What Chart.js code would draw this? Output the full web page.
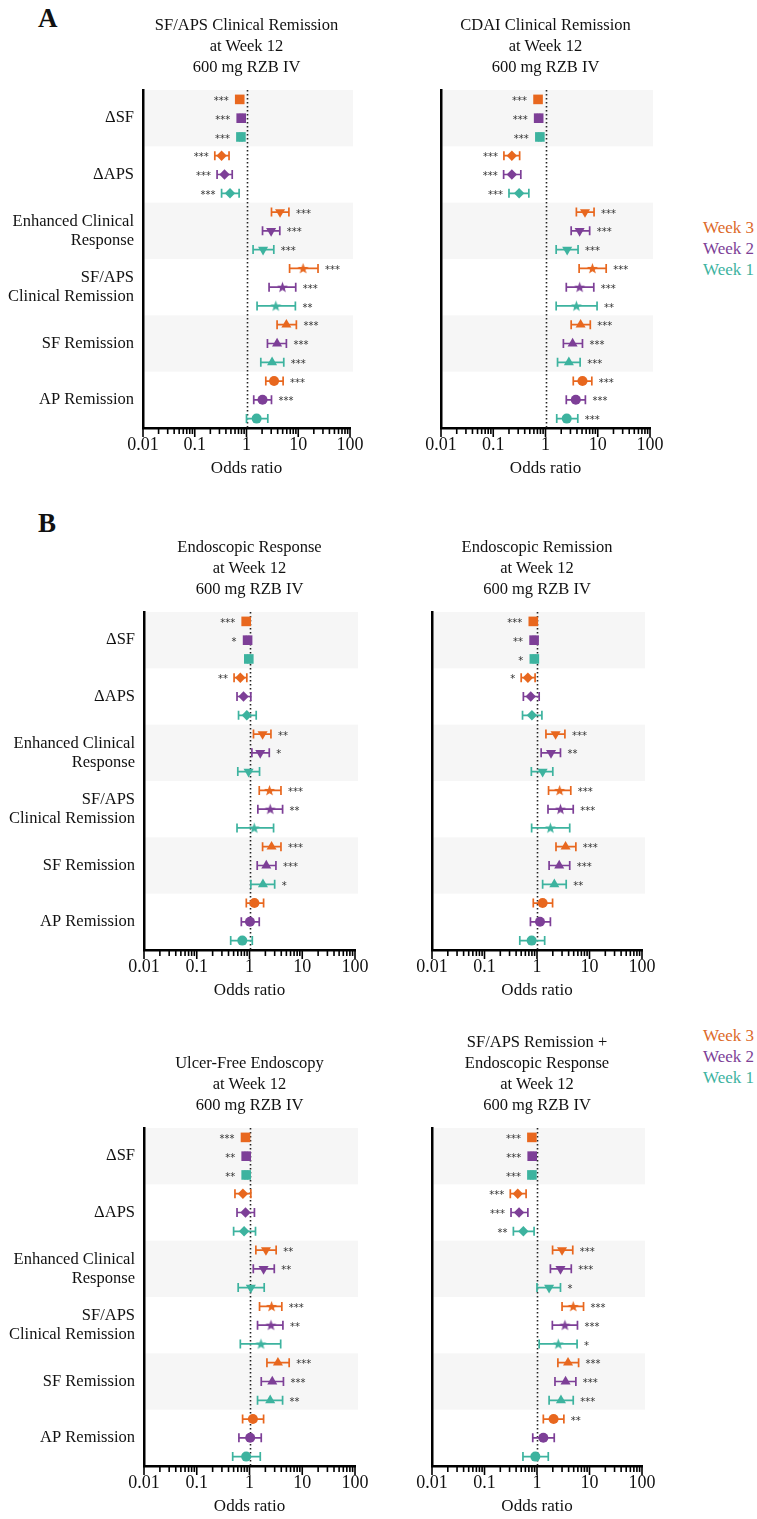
<!DOCTYPE html>
<html><head><meta charset="utf-8">
<script src="https://cdn.jsdelivr.net/npm/chart.js@4.4.1/dist/chart.umd.min.js"></script>
<style>
html,body{margin:0;padding:0;background:#fff;}
body{width:757px;height:1519px;position:relative;overflow:hidden;font-family:"Liberation Serif","Times New Roman",serif;color:#111;}
.pc{position:absolute;}
.txt{position:absolute;font-family:"Liberation Serif","Times New Roman",serif;white-space:nowrap;}
.ttl{font-size:16.5px;line-height:21px;text-align:center;width:320px;color:#111;}
.leg{font-size:17px;line-height:21px;}
.big{font-size:27px;line-height:27px;font-weight:bold;color:#111;}
</style></head><body>

<script>
// ---------------- DATA ----------------
const WEEKS = ['Week 3', 'Week 2', 'Week 1'];
const CATEGORIES = [['ΔSF'], ['ΔAPS'], ['Enhanced Clinical', 'Response'], ['SF/APS', 'Clinical Remission'], ['SF Remission'], ['AP Remission']];
const X_TICKS = [0.01, 0.1, 1, 10, 100];
const X_TICK_LABELS = ['0.01', '0.1', '1', '10', '100'];
const X_TITLE = 'Odds ratio';

// Panel A left: SF/APS Clinical Remission at Week 12
const SFAPS_W3_OR = [0.74, 0.33, 4.45, 12.4, 5.9, 3.41];
const SFAPS_W3_LO = [0.70, 0.244, 3.04, 6.8, 3.9, 2.36];
const SFAPS_W3_HI = [0.78, 0.46, 6.6, 24.1, 9.2, 5.1];
const SFAPS_W3_SIG = ['***', '***', '***', '***', '***', '***'];
const SFAPS_W2_OR = [0.79, 0.376, 2.99, 4.95, 3.9, 2.04];
const SFAPS_W2_LO = [0.75, 0.27, 2.04, 2.73, 2.54, 1.38];
const SFAPS_W2_HI = [0.83, 0.53, 4.4, 8.94, 5.9, 3.04];
const SFAPS_W2_SIG = ['***', '***', '***', '***', '***', '***'];
const SFAPS_W1_OR = [0.78, 0.48, 2.09, 3.68, 3.12, 1.57];
const SFAPS_W1_LO = [0.74, 0.33, 1.34, 1.6, 1.89, 1.0];
const SFAPS_W1_HI = [0.82, 0.72, 3.37, 8.8, 5.25, 2.58];
const SFAPS_W1_SIG = ['***', '***', '***', '**', '***', ''];

// Panel A right: CDAI Clinical Remission at Week 12
const CDAI_W3_OR = [0.72, 0.227, 5.7, 7.9, 4.7, 5.1];
const CDAI_W3_LO = [0.68, 0.16, 3.9, 4.4, 3.1, 3.4];
const CDAI_W3_HI = [0.76, 0.32, 8.5, 14.5, 7.2, 7.7];
const CDAI_W3_SIG = ['***', '***', '***', '***', '***', '***'];
const CDAI_W2_OR = [0.74, 0.227, 4.5, 4.5, 3.3, 3.8];
const CDAI_W2_LO = [0.70, 0.158, 3.1, 2.5, 2.2, 2.5];
const CDAI_W2_HI = [0.78, 0.337, 7.0, 8.4, 5.1, 5.8];
const CDAI_W2_SIG = ['***', '***', '***', '***', '***', '***'];
const CDAI_W1_OR = [0.78, 0.313, 2.6, 3.9, 2.8, 2.55];
const CDAI_W1_LO = [0.74, 0.2, 1.6, 1.6, 1.7, 1.64];
const CDAI_W1_HI = [0.82, 0.48, 4.2, 9.7, 4.6, 4.15];
const CDAI_W1_SIG = ['***', '***', '***', '**', '***', '***'];

// Panel B top left: Endoscopic Response at Week 12
const ENDRESP_W3_OR = [0.865, 0.67, 1.77, 2.4, 2.62, 1.24];
const ENDRESP_W3_LO = [0.82, 0.51, 1.19, 1.53, 1.77, 0.87];
const ENDRESP_W3_HI = [0.91, 0.89, 2.55, 3.95, 3.95, 1.85];
const ENDRESP_W3_SIG = ['***', '**', '**', '***', '***', ''];
const ENDRESP_W2_OR = [0.92, 0.77, 1.6, 2.47, 2.08, 1.02];
const ENDRESP_W2_LO = [0.87, 0.58, 1.11, 1.44, 1.4, 0.7];
const ENDRESP_W2_HI = [0.97, 1.06, 2.37, 4.24, 3.17, 1.53];
const ENDRESP_W2_SIG = ['*', '', '*', '**', '***', ''];
const ENDRESP_W1_OR = [0.97, 0.89, 0.96, 1.23, 1.8, 0.73];
const ENDRESP_W1_LO = [0.92, 0.62, 0.6, 0.58, 1.06, 0.44];
const ENDRESP_W1_HI = [1.02, 1.34, 1.55, 2.86, 3.0, 1.13];
const ENDRESP_W1_SIG = ['', '', '', '', '*', ''];

// Panel B top right: Endoscopic Remission at Week 12
const ENDREM_W3_OR = [0.85, 0.67, 2.26, 2.7, 3.5, 1.28];
const ENDREM_W3_LO = [0.81, 0.5, 1.48, 1.66, 2.3, 0.85];
const ENDREM_W3_HI = [0.89, 0.92, 3.4, 4.4, 5.5, 1.98];
const ENDREM_W3_SIG = ['***', '*', '***', '***', '***', ''];
const ENDREM_W2_OR = [0.88, 0.76, 1.85, 2.8, 2.65, 1.14];
const ENDREM_W2_LO = [0.84, 0.55, 1.2, 1.62, 1.7, 0.75];
const ENDREM_W2_HI = [0.92, 1.1, 2.8, 4.9, 4.2, 1.8];
const ENDREM_W2_SIG = ['**', '', '**', '***', '***', ''];
const ENDREM_W1_OR = [0.89, 0.8, 1.28, 1.8, 2.14, 0.79];
const ENDREM_W1_LO = [0.85, 0.53, 0.78, 0.79, 1.28, 0.47];
const ENDREM_W1_HI = [0.93, 1.24, 2.0, 4.2, 3.6, 1.4];
const ENDREM_W1_SIG = ['*', '', '', '', '**', ''];

// Panel B bottom left: Ulcer-Free Endoscopy at Week 12
const UFE_W3_OR = [0.84, 0.75, 2.05, 2.62, 3.46, 1.16];
const UFE_W3_LO = [0.80, 0.53, 1.32, 1.55, 2.14, 0.74];
const UFE_W3_HI = [0.88, 1.06, 3.2, 4.1, 5.65, 1.85];
const UFE_W3_SIG = ['***', '', '**', '***', '***', ''];
const UFE_W2_OR = [0.865, 0.84, 1.85, 2.55, 2.7, 1.03];
const UFE_W2_LO = [0.82, 0.58, 1.18, 1.42, 1.67, 0.63];
const UFE_W2_HI = [0.91, 1.24, 2.95, 4.3, 4.4, 1.67];
const UFE_W2_SIG = ['**', '', '**', '**', '***', ''];
const UFE_W1_OR = [0.865, 0.79, 1.06, 1.65, 2.47, 0.865];
const UFE_W1_LO = [0.82, 0.5, 0.61, 0.67, 1.42, 0.48];
const UFE_W1_HI = [0.91, 1.3, 1.9, 3.9, 4.24, 1.6];
const UFE_W1_SIG = ['**', '', '', '', '**', ''];

// Panel B bottom right: SF/APS Remission + Endoscopic Response at Week 12
const COMBO_W3_OR = [0.8, 0.43, 3.0, 4.9, 3.9, 2.07];
const COMBO_W3_LO = [0.76, 0.31, 1.98, 3.0, 2.5, 1.32];
const COMBO_W3_HI = [0.84, 0.62, 4.8, 7.7, 6.2, 3.25];
const COMBO_W3_SIG = ['***', '***', '***', '***', '***', '**'];
const COMBO_W2_OR = [0.81, 0.455, 2.8, 3.4, 3.5, 1.32];
const COMBO_W2_LO = [0.77, 0.32, 1.8, 1.96, 2.2, 0.83];
const COMBO_W2_HI = [0.85, 0.67, 4.5, 5.9, 5.5, 2.13];
const COMBO_W2_SIG = ['***', '***', '***', '***', '***', ''];
const COMBO_W1_OR = [0.8, 0.55, 1.7, 2.54, 2.86, 0.93];
const COMBO_W1_LO = [0.76, 0.355, 1.0, 1.1, 1.7, 0.54];
const COMBO_W1_HI = [0.84, 0.88, 2.8, 5.8, 4.9, 1.64];
const COMBO_W1_SIG = ['***', '**', '*', '*', '***', ''];

// ---------------- STYLE ----------------
const SERIF = '"Liberation Serif", "Times New Roman", serif';
const COLORS = ['#E8671E', '#7D3F97', '#3DB39F'];
const LEGEND_COLORS = ['#DD6A2A', '#7D3F97', '#3DB39F'];
const BAND_COLOR = '#f6f6f6';

function starCanvas(color) {
  const c = document.createElement('canvas'); c.width = 13; c.height = 13;
  const g = c.getContext('2d'); g.fillStyle = color; g.beginPath();
  for (let i = 0; i < 10; i++) {
    const r = i % 2 ? 2.4 : 5.8;
    const a = -Math.PI / 2 + i * Math.PI / 5;
    g.lineTo(6.5 + r * Math.cos(a), 6.9 + r * Math.sin(a));
  }
  g.closePath(); g.fill(); return c;
}
const STARS = COLORS.map(starCanvas);
const MARKER_STYLE = (w, i) => ['rect', 'rectRot', 'triangle', STARS[w], 'triangle', 'circle'][i];
const MARKER_RADIUS = [6.8, 5.2, 5.8, 5, 5.8, 5];
const MARKER_ROT = [0, 0, 180, 0, 0, 0];

const forestPlugin = {
  id: 'forest',
  beforeDraw(chart) {
    const {ctx, chartArea: ca, scales: {y}} = chart;
    ctx.save();
    ctx.fillStyle = BAND_COLOR;
    [0, 2, 4].forEach(c => {
      const t = y.getPixelForValue(c * 3 - 0.5), b = y.getPixelForValue(c * 3 + 2.5);
      ctx.fillRect(ca.left + 1.5, t, ca.right + 3 - ca.left - 1.5, b - t);
    });
    ctx.restore();
  },
  beforeDatasetsDraw(chart) {
    const {ctx, chartArea: ca, scales: {x, y}} = chart;
    ctx.save();
    const x1 = Math.round(x.getPixelForValue(1)) + 0.5;
    ctx.strokeStyle = '#222'; ctx.lineWidth = 1.6; ctx.setLineDash([1.6, 2.4]);
    ctx.beginPath(); ctx.moveTo(x1, ca.top); ctx.lineTo(x1, ca.bottom); ctx.stroke();
    ctx.setLineDash([]);
    chart.data.datasets.forEach((ds) => {
      ctx.strokeStyle = ds.backgroundColor; ctx.lineWidth = 1.7;
      ds.data.forEach((pt, i) => {
        const yp = y.getPixelForValue(pt.y);
        const xl = x.getPixelForValue(ds.lo[i]), xh = x.getPixelForValue(ds.hi[i]);
        ctx.beginPath();
        ctx.moveTo(xl, yp); ctx.lineTo(xh, yp);
        ctx.moveTo(xl, yp - 4.5); ctx.lineTo(xl, yp + 4.5);
        ctx.moveTo(xh, yp - 4.5); ctx.lineTo(xh, yp + 4.5);
        ctx.stroke();
      });
    });
    ctx.restore();
  },
  afterDatasetsDraw(chart) {
    const {ctx, scales: {x, y}} = chart;
    ctx.save();
    ctx.font = '10px "DejaVu Sans", sans-serif';
    ctx.fillStyle = '#333'; ctx.textBaseline = 'middle';
    chart.data.datasets.forEach((ds) => {
      ds.data.forEach((pt, i) => {
        const s = ds.sig[i]; if (!s) return;
        const yp = y.getPixelForValue(pt.y) + 2;
        const xo = x.getPixelForValue(pt.x);
        if (pt.x < 1) {
          ctx.textAlign = 'right';
          ctx.fillText(s, Math.min(x.getPixelForValue(ds.lo[i]), xo - 5) - 6, yp);
        } else {
          ctx.textAlign = 'left';
          ctx.fillText(s, Math.max(x.getPixelForValue(ds.hi[i]), xo + 5) + 7, yp);
        }
      });
    });
    ctx.restore();
  },
  afterDraw(chart) {
    const {ctx, chartArea: ca, scales: {x}} = chart;
    ctx.save();
    ctx.strokeStyle = '#000'; ctx.lineWidth = 1.6;
    for (let d = 0; d < X_TICKS.length; d++) {
      const base = X_TICKS[d];
      const ks = d === X_TICKS.length - 1 ? [1] : [1, 2, 3, 4, 5, 6, 7, 8, 9];
      ks.forEach(k => {
        const px = x.getPixelForValue(base * k);
        const len = k === 1 ? 8 : 5;
        ctx.beginPath(); ctx.moveTo(px, ca.bottom + 1); ctx.lineTo(px, ca.bottom + 1 + len); ctx.stroke();
      });
    }
    ctx.restore();
  }
};

// ---------------- LAYOUT ----------------
const PLOT_H = 338, PAD_TOP = 24, X_AXIS_H = 65;
const PANELS = [
  {title: ['SF/APS Clinical Remission', 'at Week 12', '600 mg RZB IV'], left: 0, top: 90, width: 380, yw: 143, showY: true,
   w: [[SFAPS_W3_OR, SFAPS_W3_LO, SFAPS_W3_HI, SFAPS_W3_SIG], [SFAPS_W2_OR, SFAPS_W2_LO, SFAPS_W2_HI, SFAPS_W2_SIG], [SFAPS_W1_OR, SFAPS_W1_LO, SFAPS_W1_HI, SFAPS_W1_SIG]]},
  {title: ['CDAI Clinical Remission', 'at Week 12', '600 mg RZB IV'], left: 380, top: 90, width: 300, yw: 61, showY: false,
   w: [[CDAI_W3_OR, CDAI_W3_LO, CDAI_W3_HI, CDAI_W3_SIG], [CDAI_W2_OR, CDAI_W2_LO, CDAI_W2_HI, CDAI_W2_SIG], [CDAI_W1_OR, CDAI_W1_LO, CDAI_W1_HI, CDAI_W1_SIG]]},
  {title: ['Endoscopic Response', 'at Week 12', '600 mg RZB IV'], left: 0, top: 612, width: 385, yw: 144, showY: true,
   w: [[ENDRESP_W3_OR, ENDRESP_W3_LO, ENDRESP_W3_HI, ENDRESP_W3_SIG], [ENDRESP_W2_OR, ENDRESP_W2_LO, ENDRESP_W2_HI, ENDRESP_W2_SIG], [ENDRESP_W1_OR, ENDRESP_W1_LO, ENDRESP_W1_HI, ENDRESP_W1_SIG]]},
  {title: ['Endoscopic Remission', 'at Week 12', '600 mg RZB IV'], left: 380, top: 612, width: 292, yw: 52, showY: false,
   w: [[ENDREM_W3_OR, ENDREM_W3_LO, ENDREM_W3_HI, ENDREM_W3_SIG], [ENDREM_W2_OR, ENDREM_W2_LO, ENDREM_W2_HI, ENDREM_W2_SIG], [ENDREM_W1_OR, ENDREM_W1_LO, ENDREM_W1_HI, ENDREM_W1_SIG]]},
  {title: ['Ulcer-Free Endoscopy', 'at Week 12', '600 mg RZB IV'], left: 0, top: 1128, width: 385, yw: 144, showY: true,
   w: [[UFE_W3_OR, UFE_W3_LO, UFE_W3_HI, UFE_W3_SIG], [UFE_W2_OR, UFE_W2_LO, UFE_W2_HI, UFE_W2_SIG], [UFE_W1_OR, UFE_W1_LO, UFE_W1_HI, UFE_W1_SIG]]},
  {title: ['SF/APS Remission +', 'Endoscopic Response', 'at Week 12', '600 mg RZB IV'], left: 380, top: 1128, width: 292, yw: 52, showY: false,
   w: [[COMBO_W3_OR, COMBO_W3_LO, COMBO_W3_HI, COMBO_W3_SIG], [COMBO_W2_OR, COMBO_W2_LO, COMBO_W2_HI, COMBO_W2_SIG], [COMBO_W1_OR, COMBO_W1_LO, COMBO_W1_HI, COMBO_W1_SIG]]}
];

function addText(cls, html, left, top, extra) {
  const d = document.createElement('div');
  d.className = 'txt ' + cls; d.innerHTML = html;
  d.style.left = left + 'px'; d.style.top = top + 'px';
  if (extra) Object.assign(d.style, extra);
  document.body.appendChild(d); return d;
}

addText('big', 'A', 38, 5);
addText('big', 'B', 38, 510);
[216.5, 1025].forEach((t) => {
  WEEKS.forEach((wk, i) => addText('leg', wk, 703, t + i * 21, {color: LEGEND_COLORS[i]}));
});

PANELS.forEach((p) => {
  const wrap = document.createElement('div');
  wrap.className = 'pc';
  wrap.style.left = p.left + 'px';
  wrap.style.top = (p.top - PAD_TOP) + 'px';
  const cv = document.createElement('canvas');
  cv.width = p.width; cv.height = PAD_TOP + PLOT_H + X_AXIS_H;
  cv.style.width = p.width + 'px'; cv.style.height = cv.height + 'px';
  wrap.appendChild(cv); document.body.appendChild(wrap);

  const datasets = p.w.map((arr, w) => ({
    label: WEEKS[w],
    data: arr[0].map((v, i) => ({x: v, y: i * 3 + w})),
    lo: arr[1], hi: arr[2], sig: arr[3],
    backgroundColor: COLORS[w], borderColor: COLORS[w], borderWidth: 0,
    pointStyle: (c) => MARKER_STYLE(w, c.dataIndex),
    pointRadius: (c) => MARKER_RADIUS[c.dataIndex],
    rotation: (c) => MARKER_ROT[c.dataIndex],
    pointBorderWidth: 0
  }));

  const chart = new Chart(cv, {
    type: 'scatter',
    data: {datasets},
    plugins: [forestPlugin],
    options: {
      responsive: false, animation: false, events: [],
      devicePixelRatio: 1,
      layout: {padding: {top: PAD_TOP, left: 0, right: 30, bottom: 0}},
      plugins: {legend: {display: false}, tooltip: {enabled: false}, title: {display: false}},
      scales: {
        x: {
          type: 'logarithmic', min: 0.01, max: 100,
          afterBuildTicks: (s) => { s.ticks = X_TICKS.map(v => ({value: v, major: true})); },
          afterFit: (s) => { s.height = X_AXIS_H; },
          ticks: {autoSkip: false, maxRotation: 0, minRotation: 0, padding: 6, color: '#111',
                  font: {family: SERIF, size: 18}, callback: (v, i) => X_TICK_LABELS[i]},
          grid: {display: false, drawTicks: false},
          border: {display: true, color: '#000', width: 2.5},
          title: {display: true, text: X_TITLE, color: '#111', font: {family: SERIF, size: 17}, padding: {top: 0, bottom: 14}}
        },
        y: {
          type: 'linear', min: -0.5, max: 17.5, reverse: true,
          afterBuildTicks: (s) => { s.ticks = CATEGORIES.map((c, i) => ({value: i * 3 + 1})); },
          afterFit: (s) => { s.width = p.yw; },
          ticks: {display: p.showY, autoSkip: false, padding: 9, color: '#111',
                  font: {family: SERIF, size: 16.5, lineHeight: 1.15}, callback: (v, i) => CATEGORIES[i]},
          grid: {display: false, drawTicks: false},
          border: {display: true, color: '#000', width: 2.5}
        }
      }
    }
  });

  const ca = chart.chartArea;
  const cx = p.left + (ca.left + ca.right) / 2;
  const n = p.title.length;
  const firstCenter = p.top - 24 - 21 * (n - 1);
  addText('ttl', p.title.join('<br>'), cx - 160, firstCenter - 10.5);
});
</script>
</body></html>
